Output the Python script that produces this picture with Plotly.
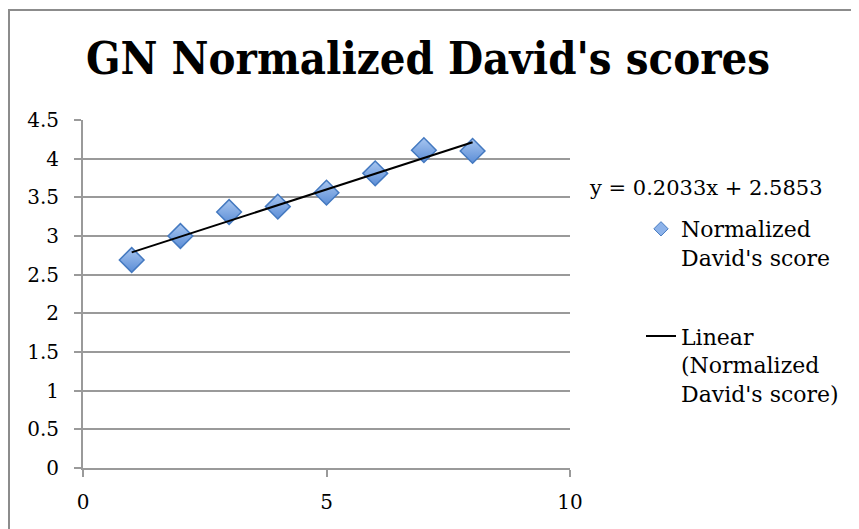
import plotly.graph_objects as go

# ---- data ----
x_vals = [1, 2, 3, 4, 5, 6, 7, 8]
y_vals = [2.69, 3.00, 3.31, 3.38, 3.56, 3.81, 4.11, 4.10]
slope = 0.2033
intercept = 2.5853
title_text = "GN Normalized David's scores"
series_name = "Normalized<br>David's score"
trend_name = "Linear<br>(Normalized<br>David's score)"
y_ticks = [0, 0.5, 1, 1.5, 2, 2.5, 3, 3.5, 4, 4.5]
y_tick_labels = ["0", "0.5", "1", "1.5", "2", "2.5", "3", "3.5", "4", "4.5"]
x_ticks = [0, 5, 10]
x_tick_labels = ["0", "5", "10"]

trend_x = [min(x_vals), max(x_vals)]
trend_y = [slope * v + intercept for v in trend_x]
eq_text = f"y = {slope}x + {intercept}"

FONT = "DejaVu Serif"
GRID = "#9a9a9a"

# the page body adds an 8px offset, so the figure is 8px smaller
W, H = 851, 521
L, R, T, B = 75, 289, 112, 61
PW, PH = W - L - R, H - T - B

fig = go.Figure()

fig.add_trace(go.Scatter(
    x=x_vals, y=y_vals, mode="markers", name=series_name,
    showlegend=False, legendgroup="a",
    marker=dict(symbol="diamond", size=19, color="#A8C6F0",
                gradient=dict(type="vertical", color="#5B8DD6"),
                line=dict(color="#4479C0", width=1.5)),
))
# legend entry for the series (smaller symbol, as in the reference legend)
fig.add_trace(go.Scatter(
    x=[None], y=[None], mode="markers", name=series_name, legendgroup="a",
    marker=dict(symbol="diamond", size=11, color="#8DB3EA",
                line=dict(color="#4479C0", width=1)),
))
fig.add_trace(go.Scatter(
    x=trend_x, y=trend_y, mode="lines", name=trend_name, legendgroup="b",
    line=dict(color="black", width=2),
))

fig.add_annotation(
    x=(579 - L) / PW, y=(T + PH - 180) / PH, xref="paper", yref="paper",
    xanchor="left", yanchor="middle",
    text=eq_text, showarrow=False, font=dict(family=FONT, size=21, color="black"),
)

# outer chart frame (cut off at the right and bottom, as in the reference)
fig.add_shape(type="rect", xref="paper", yref="paper",
              x0=(1 - L) / PW, x1=(W + 20 - L) / PW,
              y0=(T + PH - (H + 20)) / PH, y1=(T + PH - 2) / PH,
              line=dict(color="#8c8c8c", width=2), layer="below")

fig.update_layout(
    width=W, height=H,
    margin=dict(l=L, r=R, t=T, b=B, autoexpand=False),
    paper_bgcolor="white", plot_bgcolor="white",
    title=dict(text=f"<b>{title_text}</b>", x=(420 - 0) / W, xanchor="center",
               y=1 - 50 / H, yanchor="middle", yref="container",
               font=dict(family="DejaVu Serif Condensed, DejaVu Serif", size=45, color="black")),
    showlegend=True,
    legend=dict(x=(633 - L) / PW, xanchor="left", y=(T + PH - 200) / PH, yanchor="top",
                font=dict(family=FONT, size=22, color="black"),
                valign="top", tracegroupgap=47, bgcolor="rgba(0,0,0,0)"),
    xaxis=dict(range=[0, 10], tickvals=x_ticks, ticktext=x_tick_labels,
               showgrid=False, zeroline=False, showline=True, linecolor=GRID, linewidth=2,
               ticks="outside", ticklen=7, tickcolor=GRID, tickwidth=2,
               tickfont=dict(family=FONT, size=20, color="black"),
               ticklabelstandoff=8),
    yaxis=dict(range=[0, 4.5], tickvals=y_ticks, ticktext=y_tick_labels,
               showgrid=True, gridcolor=GRID, gridwidth=2, zeroline=False,
               showline=True, linecolor=GRID, linewidth=2,
               ticks="outside", ticklen=7, tickcolor=GRID, tickwidth=2,
               tickfont=dict(family=FONT, size=20, color="black"),
               ticklabelstandoff=11),
)

fig.write_html("out.html")
